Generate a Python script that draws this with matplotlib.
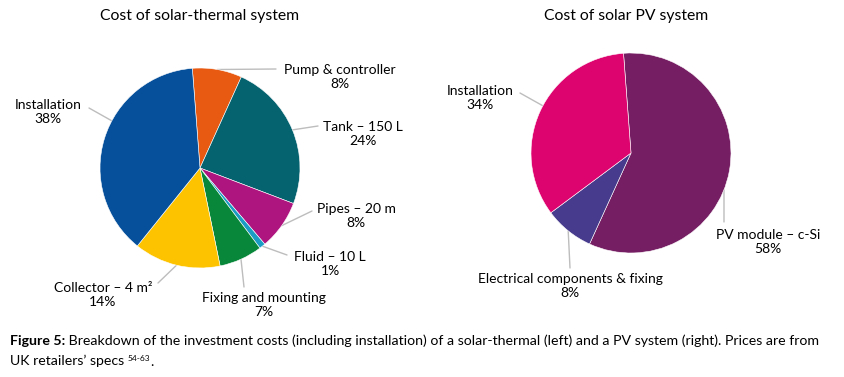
import numpy as np
import matplotlib
matplotlib.use('Agg')
import matplotlib.pyplot as plt

plt.rcParams['font.family'] = ['Lato', 'DejaVu Sans']

# solar-thermal breakdown (clockwise from top)
st_labels = ['Pump & controller', 'Tank – 150 L', 'Pipes – 20 m', 'Fluid – 10 L',
             'Fixing and mounting', 'Collector – 4 m²', 'Installation']
st_values = [8, 24, 8, 1, 7, 14, 38]
st_colors = ['#E85A12', '#05626F', '#AF157F', '#1A9CC4', '#08873A', '#FDC300', '#054F9B']

# PV breakdown
pv_labels = ['PV module – c-Si', 'Electrical components & fixing', 'Installation']
pv_values = [58, 8, 34]
pv_colors = ['#761E63', '#463B8C', '#DE046F']

W, H = 844, 377
fig = plt.figure(figsize=(W / 100, H / 100), dpi=100)
over = fig.add_axes([0, 0, 1, 1])
over.axis('off')
over.set_xlim(0, W)
over.set_ylim(H, 0)

line_col = '#BDBDBD'
fs = 10


def draw_pie(cx, cy, r, values, colors, labels, start, title, tx, label_pos):
    ax = fig.add_axes([(cx - r) / W, 1 - (cy + r) / H, 2 * r / W, 2 * r / H])
    wedges, _ = ax.pie(values, colors=colors, startangle=start, counterclock=False,
                       wedgeprops=dict(edgecolor='white', linewidth=0.4))
    ax.set_xlim(-1, 1)
    ax.set_ylim(-1, 1)
    ax.set_aspect('equal')
    ax.axis('off')
    fig.text(tx / W, 1 - 16 / H, title, ha='center', va='center', fontsize=11.3)
    for w, lab, val, (lx, ly, ex, ey, f) in zip(wedges, labels, values, label_pos):
        # connector leaves the wedge edge at fraction f of its arc
        ang = np.deg2rad(w.theta1 + f * (w.theta2 - w.theta1))
        over.annotate('', xy=(np.cos(ang), np.sin(ang)), xycoords=ax.transData,
                      xytext=(ex, ey), textcoords=over.transData,
                      arrowprops=dict(arrowstyle='-', color=line_col, lw=1,
                                      shrinkA=0, shrinkB=0))
        over.text(lx, ly, f'{lab}\n{val}%', ha='center', va='center',
                  fontsize=fs, linespacing=1.2)


# label centre (x, y), connector end (x, y) in pixels, anchor fraction on wedge arc
st_pos = [(340, 77, 276, 69, 0.5), (363, 134, 318, 126, 0.5), (356, 216, 312, 211, 0.5),
          (330, 264, 287, 255, 0.5), (264, 305, 244, 287, 0.5), (103, 295, 158, 283, 0.5),
          (48, 112, 89, 108, 0.42)]
pv_pos = [(768, 242, 724, 222, 0.445), (570, 286, 570, 268, 0.5), (480, 98, 520, 93, 0.47)]

draw_pie(200, 168, 100, st_values, st_colors, st_labels, 94.4,
         'Cost of solar-thermal system', 200, st_pos)
draw_pie(631, 153, 100, pv_values, pv_colors, pv_labels, 94.3,
         'Cost of solar PV system', 626, pv_pos)

# caption
cfs = 10.2
b = over.text(10, 341, 'Figure 5:', fontsize=cfs, fontweight='bold', va='center', ha='left')
over.annotate(' Breakdown of the investment costs (including installation) of a solar-thermal '
              '(left) and a PV system (right). Prices are from',
              xy=(1, 0.5), xycoords=b, va='center', ha='left', fontsize=cfs)
c = over.text(10, 361, 'UK retailers’ specs ', fontsize=cfs, va='center', ha='left')
s = over.annotate('54-63', xy=(1, 0.7), xycoords=c, va='center', ha='left', fontsize=6)
over.annotate('.', xy=(1, 0.5), xycoords=s, xytext=(0, -2.5), textcoords='offset points',
              va='center', ha='left', fontsize=cfs)

fig.savefig('out.png', dpi=100)
